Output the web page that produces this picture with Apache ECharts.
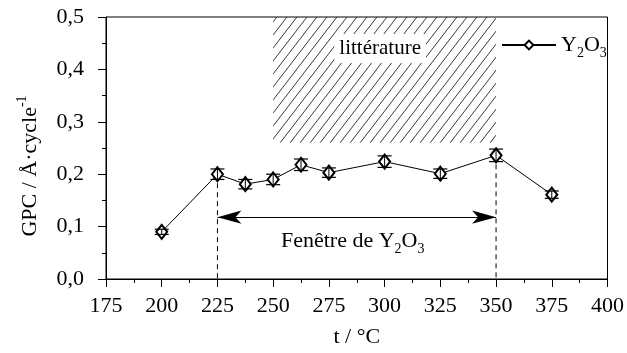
<!DOCTYPE html>
<html>
<head>
<meta charset="utf-8">
<script src="https://cdn.jsdelivr.net/npm/echarts@6/dist/echarts.min.js"></script>
<style>html,body{margin:0;padding:0;background:#fff}#c{width:627px;height:353px}</style>
</head>
<body>
<div id="c"></div>
<script>
// ---- data ----
const temperatures = [200, 225, 237.5, 250, 262.5, 275, 300, 325, 350, 375];
const gpc          = [0.090, 0.200, 0.181, 0.190, 0.218, 0.203, 0.224, 0.201, 0.236, 0.161];
const gpcError     = [0.005, 0.010, 0.009, 0.010, 0.011, 0.009, 0.011, 0.009, 0.012, 0.007];
const xTicks = [175, 200, 225, 250, 275, 300, 325, 350, 375, 400];
const yTicks = ['0,0', '0,1', '0,2', '0,3', '0,4', '0,5'];
const literatureRange = { x: [250, 350], y: [0.26, 0.5] };
const literatureLabelAt = [298, 0.440];
const windowRange = [225, 350];
const windowTops = [0.200, 0.236];
const windowArrowY = 0.118;
const windowLabelY = 0.078;

const FONT = 'Liberation Serif';
const chart = echarts.init(document.getElementById('c'), null, { renderer: 'canvas' });

// hatch pattern
const pc = document.createElement('canvas');
const W = 10, H = 13;
pc.width = W; pc.height = H;
const g = pc.getContext('2d');
g.strokeStyle = '#222'; g.lineWidth = 0.9;
g.beginPath();
g.moveTo(0, H); g.lineTo(W, 0);
g.moveTo(-W, H); g.lineTo(0, 0);
g.moveTo(W, H); g.lineTo(2 * W, 0);
g.stroke();

const seriesData = temperatures.map((t, i) => [t, gpc[i]]);
const errData = temperatures.map((t, i) => [t, gpc[i] - gpcError[i], gpc[i] + gpcError[i]]);

const subRich = (fs, ss) => ({
  a: { fontFamily: FONT, fontSize: fs, color: '#000', lineHeight: fs + 8 },
  s: { fontFamily: FONT, fontSize: ss, color: '#000', verticalAlign: 'bottom', lineHeight: ss }
});

chart.setOption({
  animation: false,
  backgroundColor: '#fff',
  grid: { left: 106, top: 17, width: 505, height: 266, show: true, borderColor: '#000', borderWidth: 1, containLabel: false },
  legend: {
    data: ['Y2O3'],
    left: 496, top: 29,
    itemWidth: 54, itemHeight: 11, itemGap: 4,
    formatter: () => '{a|Y}{s|2}{a|O}{s|3}',
    textStyle: { rich: subRich(22, 14), padding: [0, 0, 0, 0] },
    selectedMode: false
  },
  xAxis: {
    type: 'value', min: xTicks[0], max: xTicks[xTicks.length - 1], interval: 25,
    axisLine: { onZero: false, lineStyle: { color: '#000', width: 1 } },
    axisTick: { show: true, length: 8, lineStyle: { color: '#000' } },
    minorTick: { show: true, splitNumber: 2, length: 4, lineStyle: { color: '#000' } },
    splitLine: { show: false },
    axisLabel: { fontFamily: FONT, fontSize: 22, color: '#000', margin: 16 },
    name: 't / °C', nameLocation: 'middle', nameGap: 47,
    nameTextStyle: { fontFamily: FONT, fontSize: 22, color: '#000' }
  },
  yAxis: {
    type: 'value', min: 0, max: 0.5, interval: 0.1,
    axisLine: { show: true, lineStyle: { color: '#000', width: 1 } },
    axisTick: { show: true, length: 8, lineStyle: { color: '#000' } },
    minorTick: { show: true, splitNumber: 2, length: 4, lineStyle: { color: '#000' } },
    splitLine: { show: false },
    axisLabel: { fontFamily: FONT, fontSize: 22, color: '#000', margin: 22,
      formatter: v => yTicks[Math.round(v * 10)] },
  },
  graphic: [{
    type: 'text', x: 30, y: 166, rotation: Math.PI / 2,
    style: {
      text: '{a|GPC / Å·cycle}{p|-1}',
      rich: {
        a: { fontFamily: FONT, fontSize: 22, color: '#000', lineHeight: 30 },
        p: { fontFamily: FONT, fontSize: 14, color: '#000', verticalAlign: 'top', lineHeight: 14 }
      },
      align: 'center', verticalAlign: 'middle'
    }
  }],
  series: [
    {
      type: 'custom', name: 'hatch', silent: true, z: 1,
      data: [[literatureRange.x[0], literatureRange.y[0], literatureRange.x[1], literatureRange.y[1]]],
      renderItem: (params, api) => {
        const p0 = api.coord([api.value(0), api.value(3)]);
        const p1 = api.coord([api.value(2), api.value(1)]);
        const cx = api.coord(literatureLabelAt);
        return {
          type: 'group',
          children: [
            { type: 'rect', shape: { x: p0[0], y: p0[1], width: p1[0] - p0[0], height: p1[1] - p0[1] },
              style: { fill: { image: pc, repeat: 'repeat' }, stroke: null } },
            { type: 'text', x: cx[0], y: cx[1],
              style: { text: 'littérature', fontFamily: FONT, fontSize: 21, fill: '#000',
                align: 'center', verticalAlign: 'middle',
                backgroundColor: '#fff', padding: [4, 5, 4, 5] } }
          ]
        };
      }
    },
    {
      type: 'custom', name: 'window', silent: true, z: 2,
      data: windowRange.map((x, i) => [x, windowTops[i]]),
      renderItem: (params, api) => {
        const a = api.coord([api.value(0), api.value(1)]);
        const b = api.coord([api.value(0), 0]);
        return { type: 'line', shape: { x1: a[0], y1: a[1], x2: b[0], y2: b[1] },
          style: { stroke: '#000', lineWidth: 1, lineDash: [5, 4] } };
      }
    },
    {
      type: 'custom', name: 'label', silent: true, z: 2,
      data: [[(windowRange[0] + windowRange[1]) / 2, windowLabelY]],
      renderItem: (params, api) => {
        const c = api.coord([api.value(0), api.value(1)]);
        return { type: 'text', x: c[0] - 4, y: c[1] + 3,
          style: { text: '{a|Fenêtre de Y}{s|2}{a|O}{s|3}', rich: subRich(22, 14),
            align: 'center', verticalAlign: 'middle' } };
      }
    },
    {
      type: 'line', name: 'Y2O3', z: 3,
      data: seriesData,
      symbol: 'emptyDiamond', symbolSize: [11, 14],
      itemStyle: { color: '#000', borderColor: '#000', borderWidth: 1.2 },
      lineStyle: { color: '#000', width: 1 },
      markLine: {
        silent: true, symbol: ['arrow', 'arrow'], symbolSize: [10, 24],
        lineStyle: { color: '#000', width: 1, type: 'solid' },
        label: { show: false },
        data: [[{ coord: [windowRange[0], windowArrowY] }, { coord: [windowRange[1], windowArrowY] }]]
      }
    },
    {
      type: 'custom', name: 'err', silent: true, z: 4,
      data: errData,
      renderItem: (params, api) => {
        const lo = api.coord([api.value(0), api.value(1)]);
        const hi = api.coord([api.value(0), api.value(2)]);
        const w = 7;
        return { type: 'group', children: [
          { type: 'line', shape: { x1: lo[0], y1: lo[1], x2: hi[0], y2: hi[1] }, style: { stroke: '#000', lineWidth: 1 } },
          { type: 'line', shape: { x1: lo[0] - w, y1: lo[1], x2: lo[0] + w, y2: lo[1] }, style: { stroke: '#000', lineWidth: 1.2 } },
          { type: 'line', shape: { x1: hi[0] - w, y1: hi[1], x2: hi[0] + w, y2: hi[1] }, style: { stroke: '#000', lineWidth: 1.2 } }
        ] };
      }
    }
  ]
});
</script>
</body>
</html>
